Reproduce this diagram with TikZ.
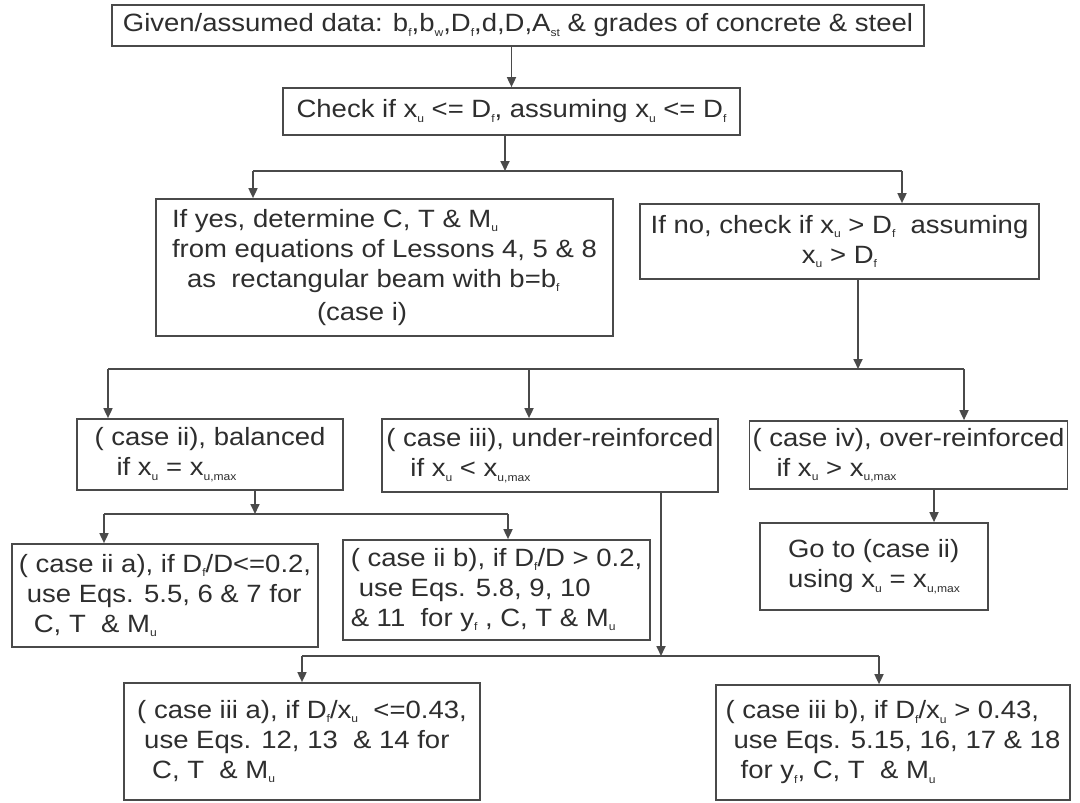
\documentclass[tikz,border=0pt]{standalone}
\usepackage{fontspec}
\usetikzlibrary{arrows.meta}
\newfontfamily\chartfont[FakeStretch=1.1]{Liberation Sans}
\newcommand{\sbs}[1]{\raisebox{-4.5pt}{\fontsize{11}{11}\selectfont #1}}
\definecolor{ink}{HTML}{2E2E2E}
\definecolor{rule}{HTML}{4A4A4A}

\begin{document}
\begin{tikzpicture}[
  x=1pt, y=-1pt,
  font=\chartfont\fontsize{25}{30}\selectfont,
  box/.style={draw=rule, line width=1.7pt, fill=white, text=ink, align=left, inner sep=3pt},
  conn/.style={rule, line width=1.7pt},
  arr/.style={conn, -{Triangle[length=10pt,width=9pt]}}
]
\useasboundingbox[fill=white] (0,0) rectangle (1080,803);

% ----------------------------- top -----------------------------
\node[box, minimum width=812pt, minimum height=41pt] (given) at (518,25.5)
  {Given/assumed data: b\sbs{f},b\sbs{w},D\sbs{f},d,D,A\sbs{st} \& grades of concrete \& steel};
\node[box, minimum width=457pt, minimum height=47pt] (check) at (511.5,111.5)
  {Check if x\sbs{u} <= D\sbs{f}, assuming x\sbs{u} <= D\sbs{f}};

\node[box, minimum width=457pt, minimum height=137pt] (ifyes) at (384.5,267.5)
  {If yes, determine C, T \& M\sbs{u}\\
   from equations of Lessons 4, 5 \& 8\\
   \hspace*{15pt}as\ \ rectangular beam with b=b\sbs{f}\\[3pt]
   \hspace*{145pt}(case i)};
\node[box, align=center, minimum width=399pt, minimum height=75pt] (ifno) at (839.5,241.5)
  {If no, check if x\sbs{u} > D\sbs{f}\ \ assuming\\ x\sbs{u} > D\sbs{f}};

% ----------------------------- cases -----------------------------
\node[box, minimum width=266pt, minimum height=71pt] (bal) at (210,454.5)
  {( case ii), balanced\\ \hspace*{22pt}if x\sbs{u} = x\sbs{u,max}};
\node[box, minimum width=336pt, minimum height=73pt] (under) at (550,455.5)
  {( case iii), under-reinforced\\ \hspace*{24pt}if x\sbs{u} < x\sbs{u,max}};
\node[box, minimum width=311pt, minimum height=68pt] (over) at (908.5,455)
  {( case iv), over-reinforced\\ \hspace*{24pt}if x\sbs{u} > x\sbs{u,max}};
\node[box, minimum width=228pt, minimum height=87pt] (goto) at (874,566.5)
  {Go to (case ii)\\ using x\sbs{u} = x\sbs{u,max}};

\node[box, minimum width=306pt, minimum height=103pt] (iia) at (165,595.5)
  {( case ii a), if D\sbs{f}/D<=0.2,\\
   \hspace*{8pt}use Eqs. 5.5, 6 \& 7 for\\
   \hspace*{15pt}C, T\ \ \& M\sbs{u}};
\node[box, minimum width=307pt, minimum height=100pt] (iib) at (496.5,590)
  {( case ii b), if D\sbs{f}/D > 0.2,\\
   \hspace*{8pt}use Eqs. 5.8, 9, 10\\
   \& 11\ \ for y\sbs{f} , C, T \& M\sbs{u}};

\node[box, minimum width=356pt, minimum height=117pt] (iiia) at (302,741.5)
  {( case iii a), if D\sbs{f}/x\sbs{u}\ \ <=0.43,\\
   \hspace*{7pt}use Eqs. 12, 13\ \ \& 14 for\\
   \hspace*{15pt}C, T\ \ \& M\sbs{u}};
\node[box, minimum width=354pt, minimum height=115pt] (iiib) at (893,742.5)
  {( case iii b), if D\sbs{f}/x\sbs{u} > 0.43,\\
   \hspace*{8pt}use Eqs. 5.15, 16, 17 \& 18\\
   \hspace*{15pt}for y\sbs{f}, C, T\ \ \& M\sbs{u}};

% ----------------------------- junctions -----------------------------
\coordinate (j1) at (505,171);  \coordinate (j1a) at (253,171); \coordinate (j1b) at (902,171);
\coordinate (j2) at (858,369);  \coordinate (j2a) at (108,369); \coordinate (j2b) at (529,369);
\coordinate (j2c) at (964,369);
\coordinate (j3) at (255,514);  \coordinate (j3a) at (104,514); \coordinate (j3b) at (508,514);
\coordinate (j4) at (661,656);  \coordinate (j4a) at (302,656); \coordinate (j4b) at (879,656);

% ----------------------------- connectors -----------------------------
\draw[arr] (check.north |- given.south) -- (check.north);

\draw[arr] (check.south -| j1) -- (j1);
\draw[conn] (j1a) -- (j1b);
\draw[arr] (j1a) -- (j1a |- ifyes.north);
\draw[arr] (j1b) -- (j1b |- ifno.north);

\draw[arr] (ifno.south -| j2) -- (j2);
\draw[conn] (j2a) -- (j2c);
\draw[arr] (j2a) -- (j2a |- bal.north);
\draw[arr] (j2b) -- (j2b |- under.north);
\draw[arr] (j2c) -- (j2c |- over.north);

\draw[arr] ([xshift=60pt]goto.north |- over.south) -- ([xshift=60pt]goto.north);

\draw[arr] (bal.south -| j3) -- (j3);
\draw[conn] (j3a) -- (j3b);
\draw[arr] (j3a) -- (j3a |- iia.north);
\draw[arr] (j3b) -- (j3b |- iib.north);

\draw[arr] (under.south -| j4) -- (j4);
\draw[conn] (j4a) -- (j4b);
\draw[arr] (j4a) -- (j4a |- iiia.north);
\draw[arr] (j4b) -- (j4b |- iiib.north);

\end{tikzpicture}
\end{document}
